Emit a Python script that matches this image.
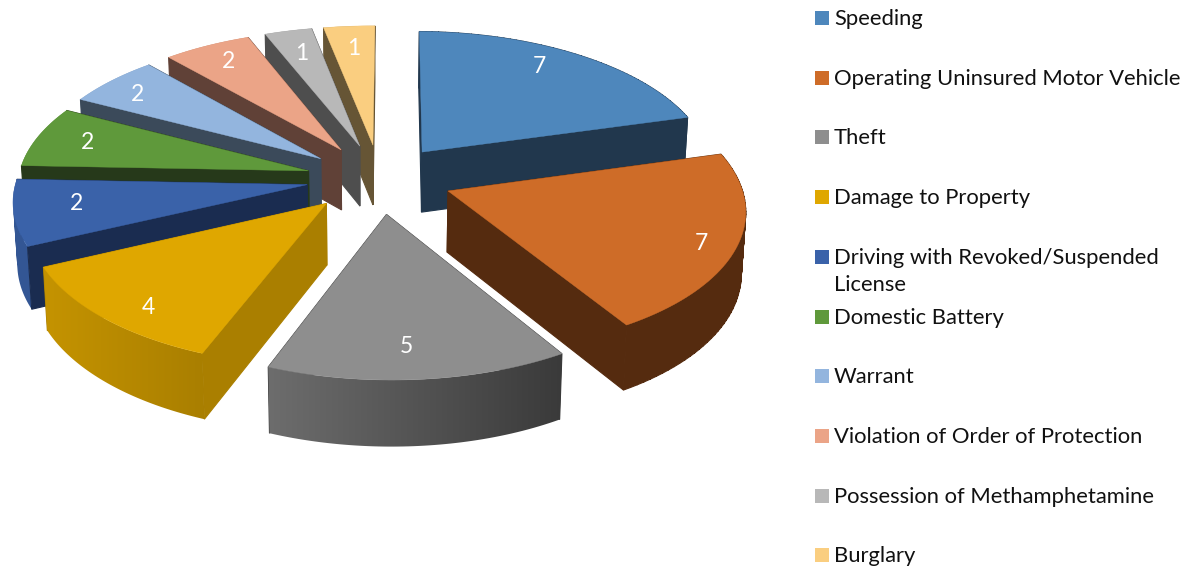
import numpy as np, seaborn as sns, matplotlib
matplotlib.use("Agg")
import matplotlib.pyplot as plt
from matplotlib.colors import to_rgb
from matplotlib.patches import PathPatch
from matplotlib.path import Path

categories = ["Speeding", "Operating Uninsured Motor Vehicle", "Theft", "Damage to Property",
              "Driving with Revoked/Suspended\nLicense", "Domestic Battery", "Warrant",
              "Violation of Order of Protection", "Possession of Methamphetamine", "Burglary"]
values = [7, 7, 5, 4, 2, 2, 2, 2, 1, 1]
top_colors = ["#4E87BC", "#CE6C28", "#8E8E8E", "#DFA700", "#3A62A9",
              "#5F993B", "#93B5DE", "#EBA487", "#B8B8B8", "#FACE80"]
cut_colors = ["#21374D", "#552B0F", "#3A3A3A", "#AA7F00", "#1A2C50",
              "#26391A", "#3B4A5A", "#604137", "#4E4E4E", "#665535"]
label_dx = [-4, 25, 7, 8, 4, 1, -2, 8, 9, 10]
label_dy = [-5, 7, 3, 20, -1, -7, -8, -7, 0, 0]

# Camera of the 3-D pie: ground plane to picture, explosion and angle warp
H = [292.86, -3.2071, 382.88, -14.504, 118.73, 178.14, 0.011521, -0.10822]
EXPLODE = [0.24951, -0.013968, -0.004861]
ANGLE = [0.084233, 0.0093919, 0.02842, 0.029868, -0.06037, -0.013181, 0.083507]

vals = np.array(values, float)
cum = np.r_[0, np.cumsum(vals)] / vals.sum() * 2 * np.pi


def proj(X, Y):
    w = H[6] * X + H[7] * Y + 1
    return (H[0] * X + H[1] * Y + H[2]) / w, (H[3] * X + H[4] * Y + H[5]) / w


def warp(t):
    return (t + ANGLE[0] + ANGLE[1] * np.sin(2 * t) + ANGLE[2] * np.cos(2 * t)
            + ANGLE[3] * np.sin(3 * t) + ANGLE[4] * np.cos(3 * t)
            + ANGLE[5] * np.sin(t) + ANGLE[6] * np.cos(t))


def wedge(i, n=60):
    a, b = cum[i], cum[i + 1]
    m = (a + b) / 2
    e = EXPLODE[0] + EXPLODE[1] * np.sin(m) + EXPLODE[2] * np.cos(m)
    wm = m + ANGLE[0]
    return e * np.sin(wm), -e * np.cos(wm), warp(np.linspace(a, b, n)), wm


def bottom(x, y):
    return x + (372 - x) * .012, y * 1.0286 + 55.7


def wall_path(xs, ys, bx, by):
    """Outer wall as a union of equally oriented quads, so that folds stay filled."""
    verts, codes = [], []
    for s in range(len(xs) - 1):
        q = np.array([[xs[s], ys[s]], [xs[s + 1], ys[s + 1]], [bx[s + 1], by[s + 1]], [bx[s], by[s]]])
        area = np.sum(q[:, 0] * np.roll(q[:, 1], -1) - np.roll(q[:, 0], -1) * q[:, 1])
        if area < 0:
            q = q[::-1]
        verts += list(q) + [q[0]]
        codes += [Path.MOVETO, Path.LINETO, Path.LINETO, Path.LINETO, Path.CLOSEPOLY]
    return Path(np.array(verts), codes)


sns.set_theme(style="white")
plt.rcParams['font.family'] = ['Lato', 'DejaVu Sans']
fig = plt.figure(figsize=(11.88, 5.69), dpi=100)
ax = fig.add_axes([0, 0, 1, 1])

gx = np.arange(0, 800.)
shade = np.interp(gx, [46, 203, 266, 561], [.88, .76, .77, .41])
order = [9, 8, 7, 6, 5, 4, 3, 0, 1, 2]
for z, i in enumerate(order):
    ex, ey, t, wm = wedge(i)
    ax_, ay_ = proj(ex, ey)
    xs, ys = proj(ex + np.sin(t), ey - np.cos(t))
    rgb = np.array(to_rgb(top_colors[i]))
    bx, by = bottom(xs, ys)
    faces = [(None, np.r_[ys, by].mean(), None)]
    for (px, py) in [(xs[0], ys[0]), (xs[-1], ys[-1])]:
        b1, b2 = bottom(np.array([ax_, px]), np.array([ay_, py]))
        q = (np.r_[ax_, px, b1[::-1]], np.r_[ay_, py, b2[::-1]])
        faces.append((q, q[1].mean(), cut_colors[i]))
    faces.sort(key=lambda f: f[1])
    for q, _, c in faces:
        if q is not None:
            ax.fill(q[0], q[1], color=c, lw=.8, zorder=z * 2 + 1)
        elif i in (0, 1):
            ax.add_patch(PathPatch(wall_path(xs, ys, bx, by), fc=cut_colors[i], ec=cut_colors[i],
                                   lw=.8, zorder=z * 2 + 1))
        else:
            img = np.clip((shade[:, None] * rgb)[None, :, :], 0, 1)
            poly = PathPatch(wall_path(xs, ys, bx, by), fc='none', ec='none', transform=ax.transData)
            ax.add_patch(poly)
            im = ax.imshow(img, extent=(0, 800, 569, 0), aspect='auto',
                           zorder=z * 2 + 1, interpolation='bilinear')
            im.set_clip_path(poly)
    ax.fill(np.r_[ax_, xs], np.r_[ay_, ys], color=top_colors[i], lw=.3, zorder=z * 2 + 2)
    lx, ly = proj(ex + .8 * np.sin(wm), ey - .8 * np.cos(wm))
    ax.text(lx + label_dx[i], ly + label_dy[i], str(values[i]), color='w', fontsize=16.5,
            ha='center', va='center', zorder=50)

ax.set_xlim(0, 1188)
ax.set_ylim(569, 0)
ax.axis('off')
for i, c in enumerate(categories):
    y = 18 + i * 59.7
    ax.add_patch(plt.Rectangle((815, y - 7), 14, 14, fc=top_colors[i], lw=0))
    ax.text(834, y - 9, c, color='#111111', fontsize=15.8, va='top', ha='left', linespacing=1.45)
fig.savefig("out.png", dpi=100)
